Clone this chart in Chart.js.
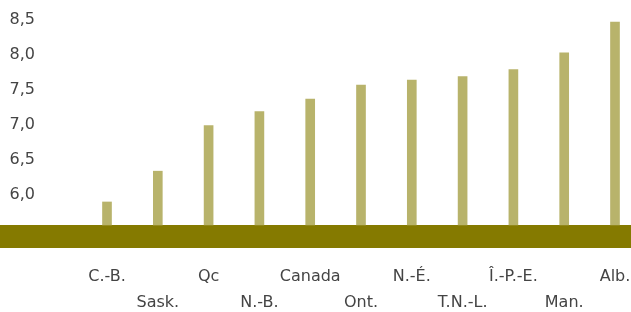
<!DOCTYPE html>
<html>
<head>
<meta charset="utf-8">
<script src="https://cdn.jsdelivr.net/npm/chart.js@4/dist/chart.umd.min.js"></script>
<style>
  html, body { margin: 0; padding: 0; background: #fff; }
  #wrap { width: 631px; height: 312px; }
</style>
</head>
<body>
<div id="wrap"><canvas id="myChart"></canvas></div>
<script>
const provinces = ["C.-B.", "Sask.", "Qc", "N.-B.", "Canada", "Ont.", "N.-É.", "T.N.-L.", "Î.-P.-E.", "Man.", "Alb."];
const values = [5.90, 6.34, 6.99, 7.19, 7.37, 7.57, 7.64, 7.69, 7.79, 8.03, 8.47];
const yTicks = [6.0, 6.5, 7.0, 7.5, 8.0, 8.5];
const yMin = 5.571, yMax = 8.786;

// staggered labels: odd ones go on the second line
const labels = provinces.map((p, i) => i % 2 ? ["", p] : [p, ""]);

const bandPlugin = {
    id: 'band',
    beforeDatasetsDraw(chart) {
        const c = chart.ctx;
        const top = chart.chartArea.bottom;
        c.save();
        c.fillStyle = "#857a00";
        c.fillRect(0, top, chart.width, 23);
        c.restore();
    }
};

const ctx = document.getElementById('myChart');
new Chart(ctx, {
    type: 'bar',
    data: {
        labels: labels,
        datasets: [{
            data: values,
            base: yMin,
            backgroundColor: "#b8b36b",
            barThickness: 9,
            clip: false
        }]
    },
    options: {
        responsive: true,
        maintainAspectRatio: false,
        animation: false,
        layout: { padding: { left: 0, right: 16, top: 0, bottom: 0 } },
        plugins: {
            legend: { display: false },
            tooltip: { enabled: false }
        },
        scales: {
            x: {
                offset: false,
                afterFit: scale => {
                    scale.height = 87;
                    scale.paddingLeft = 0;
                    scale.paddingRight = 0;
                },
                grid: { display: false, drawTicks: false },
                border: { display: false },
                ticks: {
                    autoSkip: false,
                    maxRotation: 0,
                    padding: 39,
                    color: "#444",
                    font: { family: "DejaVu Sans", size: 16, lineHeight: 1.625 }
                }
            },
            y: {
                min: yMin,
                max: yMax,
                afterBuildTicks: scale => { scale.ticks = yTicks.map(v => ({ value: v })); },
                afterFit: scale => {
                    scale.width = 107;
                    scale.paddingTop = 0;
                    scale.paddingBottom = 0;
                },
                grid: { display: false, drawTicks: false },
                border: { display: false },
                ticks: {
                    autoSkip: false,
                    padding: 72,
                    color: "#444",
                    font: { family: "DejaVu Sans", size: 16 },
                    callback: v => v.toFixed(1).replace('.', ',')
                }
            }
        }
    },
    plugins: [bandPlugin]
});
</script>
</body>
</html>
